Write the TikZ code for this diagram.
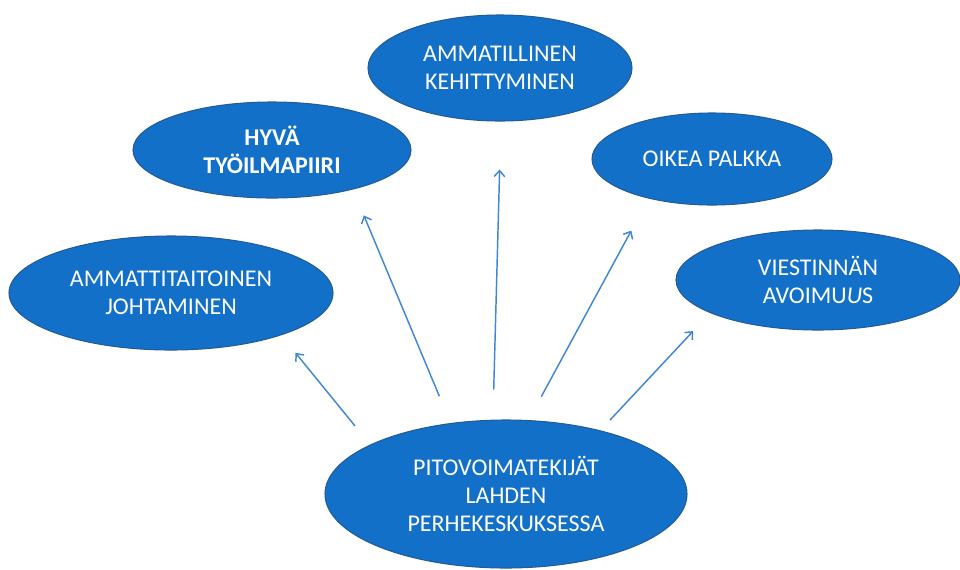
\documentclass[tikz,border=0pt]{standalone}
\usepackage{fontspec}
\setmainfont{Carlito}
\usetikzlibrary{shapes.geometric,arrows.meta}

\definecolor{blobblue}{RGB}{18,112,200}
\definecolor{blobedge}{RGB}{36,92,150}
\definecolor{arrblue}{RGB}{66,134,214}

\newlength\pxu
\setlength\pxu{0.75pt}

\tikzset{
  blob/.style={ellipse, fill=blobblue, draw=blobedge, line width=0.8pt,
    text=white, align=center, inner sep=0pt,
    font=\fontsize{18pt}{21pt}\selectfont},
  arr/.style={draw=arrblue, line width=1.1pt,
    -{Straight Barb[length=4.5pt,width=8pt]}}
}

\begin{document}
\begin{tikzpicture}[x=0.75pt,y=-0.75pt]
\useasboundingbox (0,0) rectangle (960,569);
% the outer factors
\node[blob, minimum width=324\pxu, minimum height=114\pxu] (johto) at (171,293) {AMMATTITAITOINEN\\JOHTAMINEN};
\node[blob, minimum width=278\pxu, minimum height=96\pxu, font=\fontsize{18pt}{21pt}\selectfont\bfseries] (ilma) at (272,150) {HYVÄ\\TYÖILMAPIIRI};
\node[blob, minimum width=264\pxu, minimum height=106\pxu] (kehitys) at (500,68) {AMMATILLINEN\\KEHITTYMINEN};
\node[blob, minimum width=240\pxu, minimum height=92\pxu] (palkka) at (712,159) {OIKEA PALKKA};
\node[blob, minimum width=284\pxu, minimum height=100\pxu] (avoin) at (818,280) {VIESTINNÄN\\AVOIMU\textit{U}S};
% centre
\node[blob, minimum width=362\pxu, minimum height=148\pxu] (base) at (506,494) {PITOVOIMATEKIJÄT\\LAHDEN\\PERHEKESKUKSESSA};

\draw[arr, shorten <=18pt, shorten >=17pt] (base.160.4) -- (johto.-21);
\draw[arr, shorten <=21.75pt, shorten >=21pt] (base.128.5) -- (ilma.-26);
\draw[arr, shorten <=22.5pt, shorten >=36pt] (base.100.8) -- (kehitys.-89.4);
\draw[arr, shorten <=20pt, shorten >=27.3pt] (base.73.9) -- (palkka.-148.5);
\draw[arr, shorten <=10.5pt, shorten >=18.5pt] (base.34.6) -- (avoin.-163.7);
\end{tikzpicture}
\end{document}
